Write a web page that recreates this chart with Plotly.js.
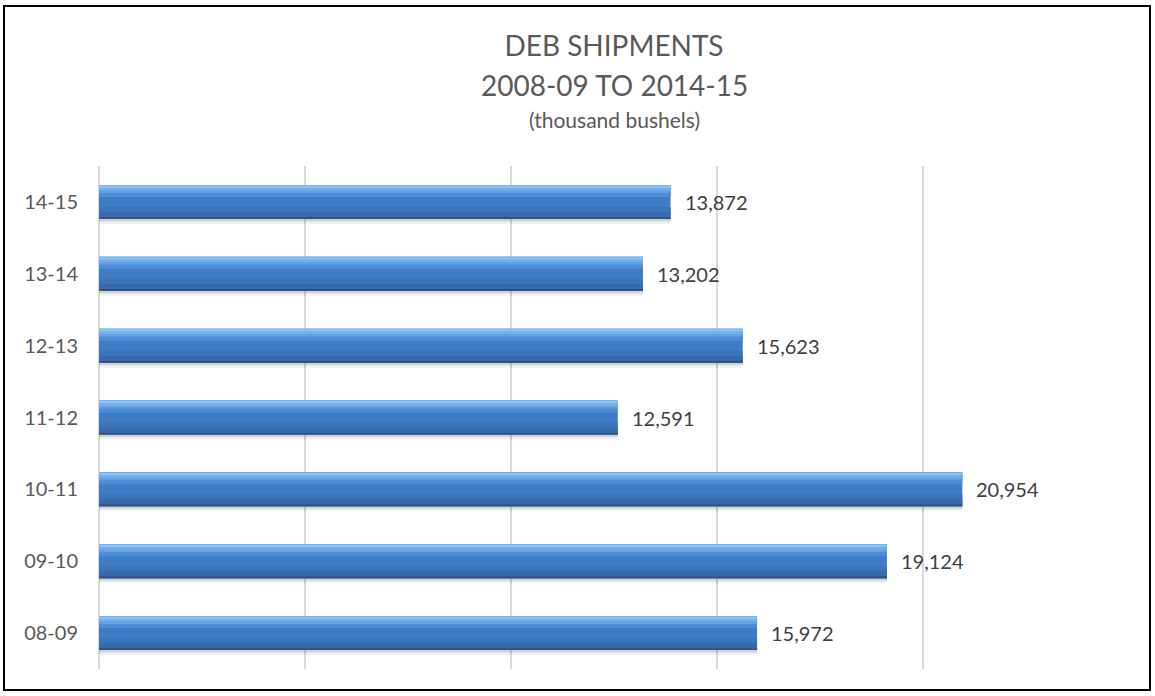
<!DOCTYPE html>
<html>
<head>
<meta charset="utf-8">
<script src="https://cdn.plot.ly/plotly-3.0.1.min.js"></script>
<style>
  html, body { margin: 0; padding: 0; background: #fff; }
  #wrap { position: relative; width: 1155px; height: 696px; }
  #chart { width: 1155px; height: 696px; }
  #frame { position: absolute; left: 3px; top: 5px; width: 1148px; height: 686px;
           border: 2px solid #000; box-sizing: border-box; pointer-events: none; }
</style>
</head>
<body>
<div id="wrap">
  <div id="chart"></div>
  <div id="frame"></div>
</div>
<script>
// ---- data ----
const seasons = ['08-09', '09-10', '10-11', '11-12', '12-13', '13-14', '14-15'];
const shipments = [15972, 19124, 20954, 12591, 15623, 13202, 13872];
const titleLine1 = 'DEB SHIPMENTS';
const titleLine2 = '2008-09 TO 2014-15';
const subtitle = '(thousand bushels)';

// ---- styling ----
const plotTop = 166, plotBottom = 669;
const plotH = plotBottom - plotTop;
const catPx = plotH / seasons.length; // px per category
const FONT = 'Lato, "Open Sans", Arial, sans-serif';

// bands in px relative to category centre (up positive): [from, to, colour]
const bands = [
  [-22, -17, 'rgba(0,0,0,0.06)'],
  [-19.5, -17, 'rgba(0,0,0,0.12)'],
  [-17, 17, '#3E7CC9'],
  [-17, -5, '#3A74B9'],
  [-17, -10, '#366BAA'],
  [-17, -15.2, '#2A5087'],
  [5, 15, '#4E8CD6'],
  [9, 15.5, '#61A0E3'],
  [11.5, 15.5, '#72AFEC'],
  [14.3, 17, '#8CC4F4'],
  [16.4, 17, '#6FA6DE']
];

const traces = bands.map(b => ({
  type: 'bar',
  orientation: 'h',
  x: shipments,
  y: seasons,
  offset: b[0] / catPx,
  width: (b[1] - b[0]) / catPx,
  marker: { color: b[2], line: { width: 0 } },
  hoverinfo: 'skip',
  showlegend: false
}));

const labelAnnotations = seasons.map((s, i) => ({
  x: shipments[i],
  y: s,
  xref: 'x',
  yref: 'y',
  text: shipments[i].toLocaleString('en-US'),
  showarrow: false,
  xanchor: 'left',
  yanchor: 'middle',
  xshift: 12,
  font: { family: FONT, size: 20, color: '#404040' }
}));

function pyToPaper(py) { return (plotBottom - py) / plotH; }

labelAnnotations.push({
  x: 0.5, xref: 'paper',
  y: pyToPaper(85), yref: 'paper',
  text: titleLine2,
  showarrow: false,
  xanchor: 'center', yanchor: 'middle',
  font: { family: FONT, size: 28, color: '#595959' }
});
labelAnnotations.push({
  x: 0.5, xref: 'paper',
  y: pyToPaper(119), yref: 'paper',
  text: subtitle,
  showarrow: false,
  xanchor: 'center', yanchor: 'middle',
  font: { family: FONT, size: 21, color: '#595959' }
});

const layout = {
  width: 1155,
  height: 696,
  margin: { l: 99, r: 26, t: plotTop, b: 696 - plotBottom, pad: 0 },
  paper_bgcolor: '#ffffff',
  plot_bgcolor: '#ffffff',
  barmode: 'overlay',
  title: {
    text: titleLine1,
    font: { family: FONT, size: 28, color: '#595959' },
    x: 0.5, xanchor: 'center', xref: 'paper',
    y: 1 - 46 / 696, yref: 'container', yanchor: 'middle'
  },
  xaxis: {
    range: [0, 25000],
    dtick: 5000,
    tick0: 0,
    showticklabels: false,
    showgrid: true,
    gridcolor: '#d9d9d9',
    gridwidth: 1.5,
    zeroline: true,
    zerolinecolor: '#d9d9d9',
    zerolinewidth: 1.5,
    showline: false,
    ticks: '',
    fixedrange: true
  },
  yaxis: {
    type: 'category',
    categoryorder: 'array',
    categoryarray: seasons,
    showgrid: false,
    zeroline: false,
    showline: false,
    ticks: '',
    ticklabelstandoff: 20,
    tickfont: { family: FONT, size: 20, color: '#595959' },
    fixedrange: true
  },
  annotations: labelAnnotations
};

Plotly.newPlot('chart', traces, layout, { displayModeBar: false, staticPlot: true });
</script>
</body>
</html>
